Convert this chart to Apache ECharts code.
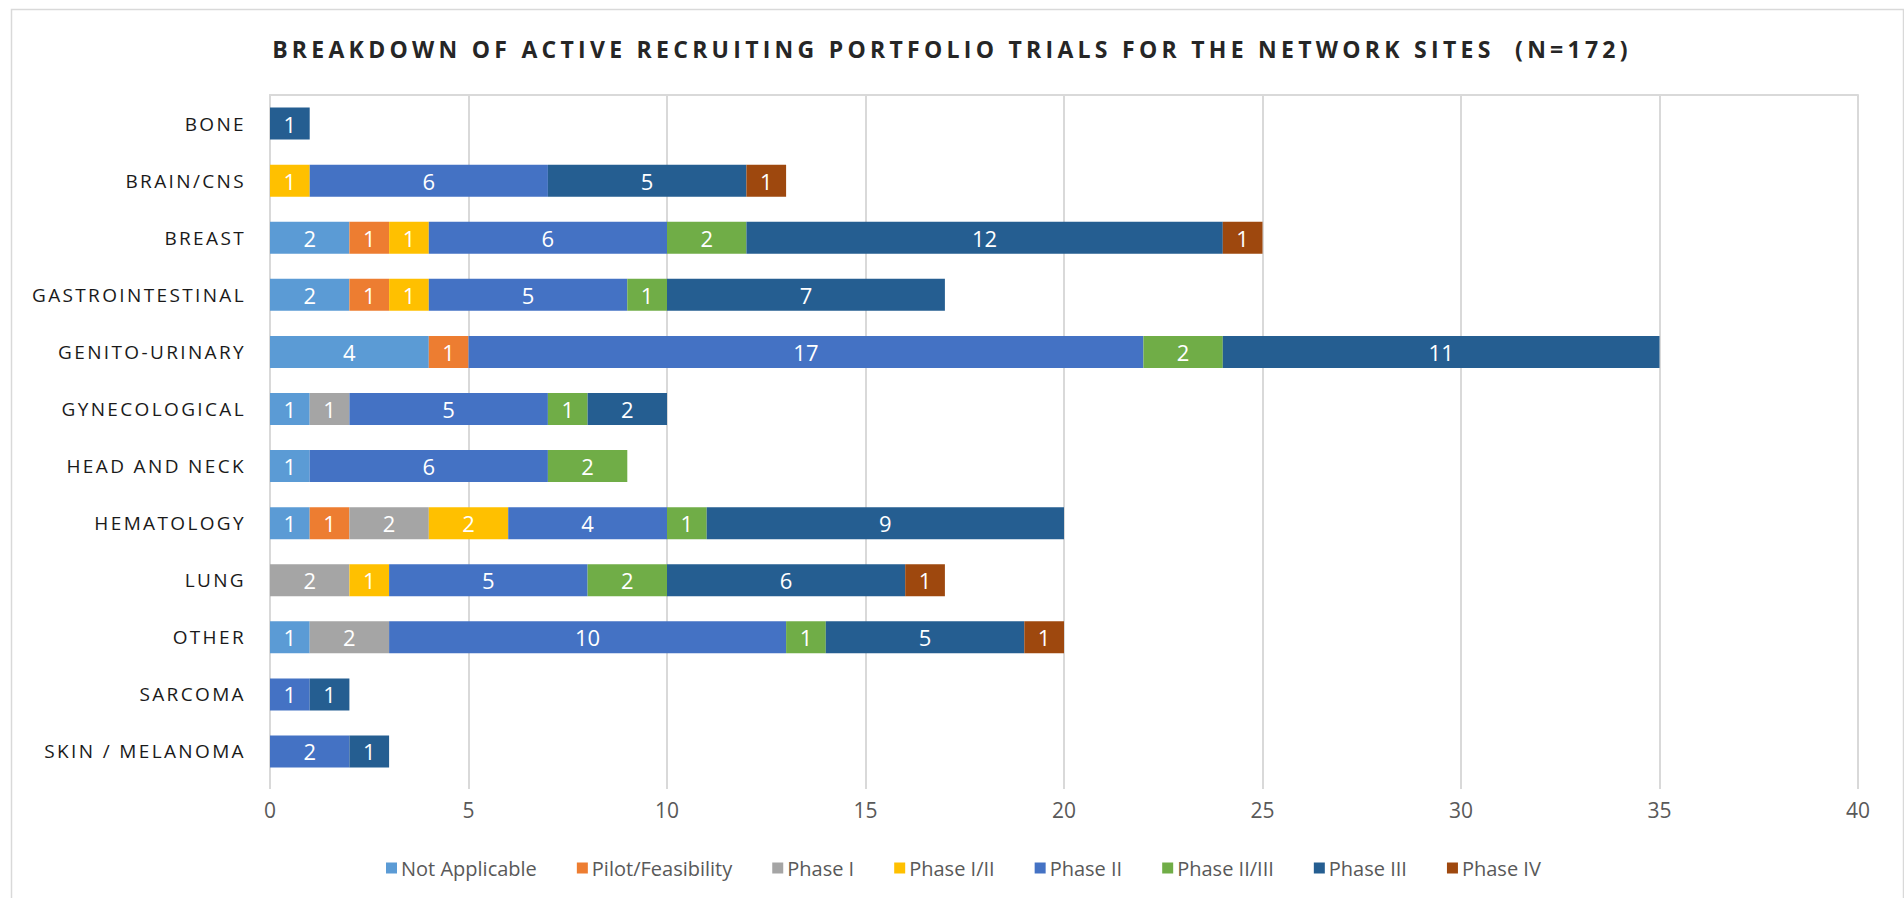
<!DOCTYPE html>
<html>
<head>
<meta charset="utf-8">
<title>Active recruiting portfolio trials</title>
<script src="https://cdn.jsdelivr.net/npm/echarts@6.0.0/dist/echarts.min.js"></script>
<style>
  html, body { margin: 0; padding: 0; background: #fff; }
  #chart { width: 1904px; height: 898px; }
</style>
</head>
<body>
<div id="chart"></div>
<script>
var titleText = 'BREAKDOWN OF ACTIVE RECRUITING PORTFOLIO TRIALS FOR THE NETWORK SITES  (N=172)'

var categories = ['BONE', 'BRAIN/CNS', 'BREAST', 'GASTROINTESTINAL', 'GENITO-URINARY', 'GYNECOLOGICAL',
  'HEAD AND NECK', 'HEMATOLOGY', 'LUNG', 'OTHER', 'SARCOMA', 'SKIN / MELANOMA']

var notApplicable = [null, null, 2, 2, 4, 1, 1, 1, null, 1, null, null]
var pilotFeasibility = [null, null, 1, 1, 1, null, null, 1, null, null, null, null]
var phaseI = [null, null, null, null, null, 1, null, 2, 2, 2, null, null]
var phaseI_II = [null, 1, 1, 1, null, null, null, 2, 1, null, null, null]
var phaseII = [null, 6, 6, 5, 17, 5, 6, 4, 5, 10, 1, 2]
var phaseII_III = [null, null, 2, 1, 2, 1, 2, 1, 2, 1, null, null]
var phaseIII = [1, 5, 12, 7, 11, 2, null, 9, 6, 5, 1, 1]
var phaseIV = [null, 1, 1, null, null, null, null, null, 1, 1, null, null]

var xTicks = [0, 5, 10, 15, 20, 25, 30, 35, 40]

var seriesList = [
  { name: 'Not Applicable', data: notApplicable, color: '#5b9bd5' },
  { name: 'Pilot/Feasibility', data: pilotFeasibility, color: '#ed7d31' },
  { name: 'Phase I', data: phaseI, color: '#a5a5a5' },
  { name: 'Phase I/II', data: phaseI_II, color: '#ffc000' },
  { name: 'Phase II', data: phaseII, color: '#4472c4' },
  { name: 'Phase II/III', data: phaseII_III, color: '#70ad47' },
  { name: 'Phase III', data: phaseIII, color: '#255e91' },
  { name: 'Phase IV', data: phaseIV, color: '#9e480e' }
]

var gridColor = '#d9d9d9'
var font = '"Open Sans", "DejaVu Sans", sans-serif'

var chart = echarts.init(document.getElementById('chart'), null, { renderer: 'svg' })

chart.setOption({
  animation: false,
  title: {
    text: titleText,
    left: 'center',
    top: 32,
    textStyle: { fontFamily: font, fontSize: 23, fontWeight: 'bold', color: '#262626' }
  },
  graphic: [{
    type: 'rect',
    left: 9,
    top: 7,
    shape: { width: 1892, height: 900 },
    style: { fill: 'none', stroke: gridColor, lineWidth: 1.5 },
    silent: true
  }],
  legend: {
    left: 381,
    top: 853,
    icon: 'rect',
    itemWidth: 11,
    itemHeight: 11,
    itemGap: 40,
    textStyle: { fontFamily: font, fontSize: 20, color: '#595959', padding: [0, 0, 0, -1] },
    data: seriesList.map(function (s) { return s.name })
  },
  grid: {
    left: 270,
    right: 46,
    top: 95,
    bottom: 118
  },
  xAxis: [{
    type: 'value',
    min: xTicks[0],
    max: xTicks[xTicks.length - 1],
    interval: xTicks[1] - xTicks[0],
    axisLine: { show: false },
    axisTick: { show: true, length: 9, lineStyle: { color: gridColor, width: 2 } },
    axisLabel: { fontFamily: font, fontSize: 21, color: '#595959', margin: 19 },
    splitLine: { lineStyle: { color: gridColor, width: 2 } }
  }, {
    type: 'value',
    position: 'top',
    min: xTicks[0],
    max: xTicks[xTicks.length - 1],
    interval: xTicks[1] - xTicks[0],
    axisLine: { show: true, lineStyle: { color: gridColor, width: 2 } },
    axisTick: { show: false },
    axisLabel: { show: false },
    splitLine: { show: false }
  }],
  yAxis: {
    type: 'category',
    inverse: true,
    data: categories,
    axisLine: { show: true, lineStyle: { color: gridColor, width: 2 } },
    axisTick: { show: false },
    axisLabel: { fontFamily: font, fontSize: 19, color: '#1a1a1a', margin: 24 }
  },
  series: seriesList.map(function (s) {
    return {
      name: s.name,
      type: 'bar',
      stack: 'total',
      barWidth: 32,
      data: s.data,
      itemStyle: { color: s.color },
      label: {
        show: true,
        position: 'inside',
        color: '#fff',
        fontFamily: font,
        fontSize: 22
      }
    }
  })
})

// Excel-style letter spacing on the title and the category names
function spaceOut() {
  var ctx = document.createElement('canvas').getContext('2d')
  ctx.font = 'bold 23px ' + font
  var titleGap = (1360 - ctx.measureText(titleText).width) / titleText.length
  ctx.font = '19px ' + font
  var catGap = (214 - ctx.measureText('GASTROINTESTINAL').width) / 16
  document.querySelectorAll('#chart svg text').forEach(function (t) {
    var s = t.textContent
    if (s.replace(/\s+/g, ' ') === titleText.replace(/\s+/g, ' ')) {
      t.setAttribute('letter-spacing', titleGap.toFixed(2))
      t.style.whiteSpace = 'pre'
    } else if (categories.indexOf(s) >= 0) {
      t.setAttribute('letter-spacing', catGap.toFixed(2))
    }
  })
}
chart.on('finished', spaceOut)
spaceOut()
</script>
</body>
</html>
